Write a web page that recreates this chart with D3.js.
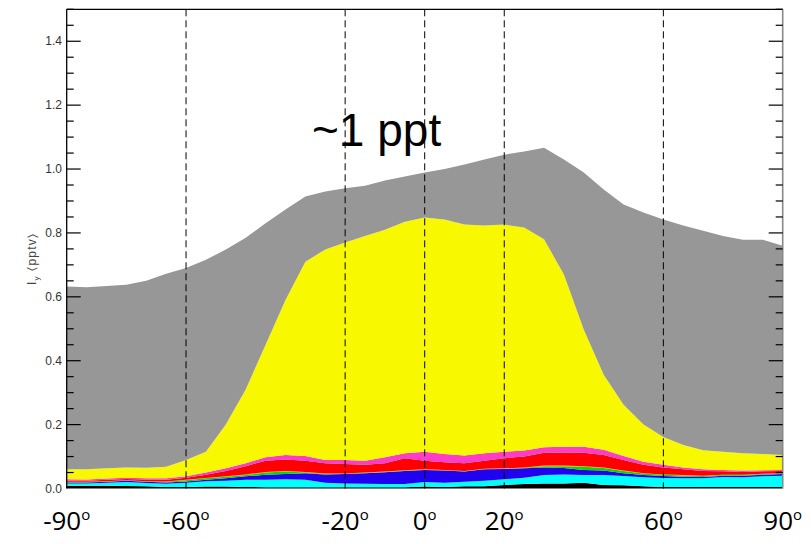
<!DOCTYPE html>
<html>
<head>
<meta charset="utf-8">
<script src="https://cdn.jsdelivr.net/npm/d3@7"></script>
<style>
  html, body { margin: 0; padding: 0; background: #fff; }
  svg { display: block; }
</style>
</head>
<body>
<div id="chart"></div>
<script>
// --- data, layer thickness in pptv, bottom to top ---
const latitudes = d3.range(-90, 91, 5);

const blackLayer   = [.009,.009,.009,.008,.007,.005,.005,.006,.006,.005,.004,.004,.004,.004,.004,.004,.004,.004,.006,.005,.007,.007,.011,.014,.016,.016,.018,.011,.010,.007,.005,.005,.005,.005,.005,.005,.005];
const cyanLayer    = [.007,.007,.009,.012,.010,.010,.013,.017,.018,.022,.023,.025,.023,.014,.012,.011,.010,.010,.014,.013,.014,.017,.018,.020,.026,.028,.024,.031,.029,.028,.028,.027,.027,.031,.030,.033,.035];
const blueLayer    = [.003,.003,.003,.004,.004,.004,.004,.004,.008,.011,.016,.016,.021,.026,.029,.033,.037,.041,.038,.038,.032,.036,.032,.029,.024,.020,.016,.014,.009,.007,.006,.005,.004,.004,.005,.005,.005];
const greenLayer   = [.001,.001,.001,.001,.001,.002,.004,.005,.005,.004,.007,.008,.002,.001,.001,.001,.001,.001,.001,.001,.001,.001,.001,.002,.004,.006,.010,.008,.007,.005,.004,.004,.003,.002,.002,.002,.002];
const orangeLayer  = [.001,.001,.001,.001,.001,.001,.001,.001,.001,.002,.002,.002,.002,.002,.001,.001,.001,.001,.001,.001,.001,.001,.001,.001,.002,.002,.002,.002,.001,.001,.001,.001,.001,.001,.001,.001,.001];
const redLayer     = [.003,.003,.004,.004,.005,.005,.007,.010,.017,.026,.035,.036,.035,.032,.030,.024,.026,.038,.027,.024,.024,.025,.032,.034,.040,.041,.042,.039,.033,.026,.022,.018,.015,.011,.009,.008,.007];
const magentaLayer = [.005,.004,.004,.004,.004,.005,.004,.007,.008,.009,.011,.014,.015,.010,.012,.013,.019,.015,.028,.026,.024,.023,.020,.019,.017,.018,.019,.016,.013,.010,.008,.006,.005,.004,.004,.003,.003];
const yellowLayer  = [.031,.032,.032,.032,.033,.036,.051,.065,.137,.231,.352,.485,.608,.659,.681,.703,.712,.725,.733,.734,.723,.713,.711,.698,.651,.539,.366,.235,.160,.116,.087,.070,.060,.057,.054,.051,.047];
const grayLayer    = [.572,.570,.571,.572,.585,.604,.601,.601,.548,.475,.380,.283,.204,.182,.170,.158,.154,.142,.141,.158,.188,.207,.219,.238,.287,.360,.492,.580,.627,.664,.681,.687,.687,.675,.669,.671,.655];

const layerNames  = ["black", "cyan", "blue", "green", "orange", "red", "magenta", "yellow", "gray"];
const layerValues = [blackLayer, cyanLayer, blueLayer, greenLayer, orangeLayer, redLayer, magentaLayer, yellowLayer, grayLayer];
const layerColors = ["#000000", "#00ffff", "#2200f0", "#00dd00", "#ff8c00", "#ff0000", "#ff3cc8", "#f8f800", "#979797"];

const dashedLats  = [-60, -20, 0, 20, 60];
const xLabelLats  = [-90, -60, -20, 0, 20, 60, 90];
const yMajorTicks = [0, 0.2, 0.4, 0.6, 0.8, 1.0, 1.2, 1.4];
const yMinorTicks = d3.range(0, 1.5001, 0.05);

// --- layout ---
const width = 811, height = 544;
const plot = { left: 66.7, right: 782.7, top: 9.3, bottom: 488.5 };

const x = d3.scaleLinear().domain([-90, 90]).range([plot.left, plot.right]);
const y = d3.scaleLinear().domain([0, 1.5]).range([plot.bottom, plot.top]);

const rows = latitudes.map((lat, i) => {
  const r = { lat };
  layerNames.forEach((k, j) => { r[k] = layerValues[j][i]; });
  return r;
});

const stacked = d3.stack().keys(layerNames)(rows);

const svg = d3.select("#chart").append("svg")
  .attr("width", width)
  .attr("height", height)
  .attr("viewBox", `0 0 ${width} ${height}`);

// areas
const area = d3.area()
  .x(d => x(d.data.lat))
  .y0(d => y(d[0]))
  .y1(d => y(d[1]))
  .curve(d3.curveLinear);

svg.append("g")
  .selectAll("path")
  .data(stacked)
  .join("path")
  .attr("fill", (d, i) => layerColors[i])
  .attr("d", area);

// dashed latitude markers
svg.append("g")
  .selectAll("line")
  .data(dashedLats)
  .join("line")
  .attr("x1", d => x(d)).attr("x2", d => x(d))
  .attr("y1", plot.top).attr("y2", plot.bottom)
  .attr("stroke", "#000")
  .attr("stroke-width", 1)
  .attr("stroke-dasharray", "7,4");

// frame: top + left black, right grey
svg.append("line")
  .attr("x1", plot.left).attr("x2", plot.right)
  .attr("y1", plot.top).attr("y2", plot.top)
  .attr("stroke", "#000").attr("stroke-width", 1.3);
svg.append("line")
  .attr("x1", plot.left).attr("x2", plot.left)
  .attr("y1", plot.top).attr("y2", plot.bottom)
  .attr("stroke", "#000").attr("stroke-width", 1.3);
svg.append("line")
  .attr("x1", plot.right).attr("x2", plot.right)
  .attr("y1", plot.top).attr("y2", plot.bottom)
  .attr("stroke", "#888").attr("stroke-width", 1.6);

// y ticks on both sides, pointing inward
const tickG = svg.append("g").attr("stroke", "#000").attr("stroke-width", 1.2);
const isMajor = v => yMajorTicks.some(m => Math.abs(m - v) < 1e-6);
yMinorTicks.filter(v => v > 0.001).forEach(v => {
  const len = isMajor(v) ? 14 : 7;
  tickG.append("line")
    .attr("x1", plot.left).attr("x2", plot.left + len)
    .attr("y1", y(v)).attr("y2", y(v));
  tickG.append("line")
    .attr("x1", plot.right - len).attr("x2", plot.right)
    .attr("y1", y(v)).attr("y2", y(v));
});

// y tick labels
svg.append("g")
  .selectAll("text")
  .data(yMajorTicks)
  .join("text")
  .attr("x", 62)
  .attr("y", d => y(d))
  .attr("dy", "0.35em")
  .attr("text-anchor", "end")
  .attr("font-family", "Liberation Sans, Arial, sans-serif")
  .attr("font-size", 12)
  .attr("fill", "#333")
  .text(d => d.toFixed(1));

// y axis title: I_y (pptv)
const yTitle = svg.append("text")
  .attr("transform", `translate(36,259) rotate(-90)`)
  .attr("text-anchor", "middle")
  .attr("font-family", "Liberation Sans, Arial, sans-serif")
  .attr("font-size", 12)
  .attr("letter-spacing", 1.2)
  .attr("fill", "#444");
yTitle.append("tspan").text("I");
yTitle.append("tspan").attr("font-size", 8).attr("dy", 3).text("y");
yTitle.append("tspan").attr("dy", -3).text("  \u2329pptv\u232A");

// x labels with degree-like superscript o
const xl = svg.append("g")
  .selectAll("text")
  .data(xLabelLats)
  .join("text")
  .attr("x", d => x(d))
  .attr("y", 530)
  .attr("text-anchor", "middle")
  .attr("font-family", "Open Sans, Noto Sans, sans-serif")
  .attr("font-size", 26)
  .attr("fill", "#000");
xl.append("tspan").text(d => d);
xl.append("tspan").attr("font-size", 15).attr("dy", -10).text("o");

// annotation
svg.append("text")
  .attr("x", 312)
  .attr("y", 146)
  .attr("font-family", "Liberation Sans, Arial, sans-serif")
  .attr("font-size", 46)
  .attr("fill", "#000")
  .text("~1 ppt");
</script>
</body>
</html>
